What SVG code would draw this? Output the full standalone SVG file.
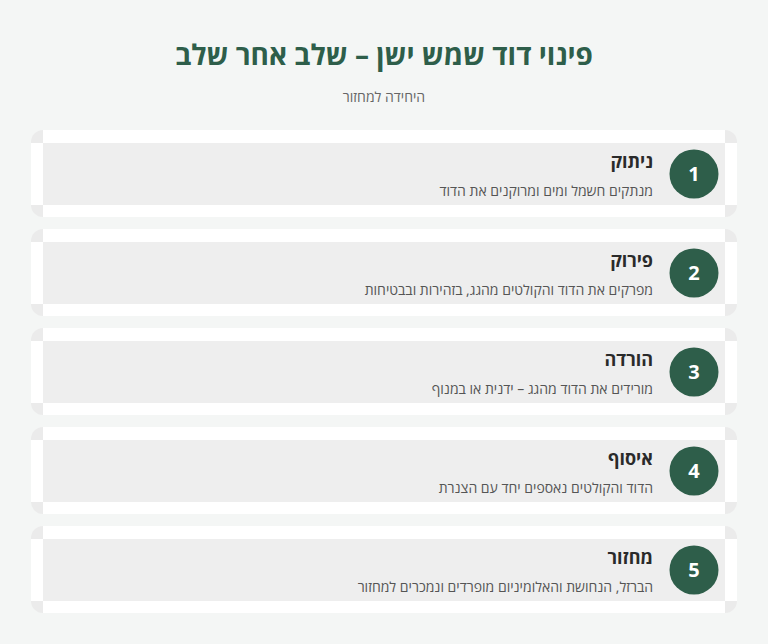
<svg xmlns="http://www.w3.org/2000/svg" width="768" height="644" viewBox="0 0 768 644">
<style>
.bg{fill:#f4f6f5}
.shadow{fill:#ebebeb}
.white{fill:#ffffff}
.band{fill:#eeeeee}
.circ{fill:#2e5e4a}
.num{font-family:"Open Sans","Noto Sans",sans-serif;font-weight:700;font-size:20px;fill:#ffffff;text-anchor:middle}
.t{font-family:"Open Sans","Noto Sans",sans-serif;font-weight:700;font-size:18px;fill:#2a2a2a;direction:rtl;text-anchor:start}
.d{font-family:"Open Sans","Noto Sans",sans-serif;font-size:14px;fill:#555555;direction:rtl;text-anchor:start}
.title{font-family:"Open Sans","Noto Sans",sans-serif;font-weight:700;font-size:28px;fill:#2e5e4a;text-anchor:middle;direction:rtl}
.sub{font-family:"Open Sans","Noto Sans",sans-serif;font-size:14px;fill:#666666;text-anchor:middle;direction:rtl}
</style>
<defs>
<g id="card">
<rect class="shadow" x="31" y="0" width="706" height="87" rx="12"/>
<rect class="white" x="43" y="0" width="682" height="87"/>
<rect class="white" x="31" y="13" width="706" height="62"/>
<rect class="band" x="43" y="13" width="682" height="62"/>
</g>
</defs>
<rect class="bg" x="0" y="0" width="768" height="644"/>
<text class="title" x="384" y="65">פינוי דוד שמש ישן – שלב אחר שלב</text>
<text class="sub" x="384" y="102">היחידה למחזור</text>
<g id="connectors"></g>
<g id="step1">
<use href="#card" y="130"/>
<circle class="circ" cx="694" cy="174" r="24.5"/>
<text class="num" x="694" y="181">1</text>
<text class="t" x="653" y="168">ניתוק</text>
<text class="d" x="653" y="196">מנתקים חשמל ומים ומרוקנים את הדוד</text>
</g>
<g id="step2">
<use href="#card" y="229"/>
<circle class="circ" cx="694" cy="273" r="24.5"/>
<text class="num" x="694" y="280">2</text>
<text class="t" x="653" y="267">פירוק</text>
<text class="d" x="653" y="295">מפרקים את הדוד והקולטים מהגג, בזהירות ובבטיחות</text>
</g>
<g id="step3">
<use href="#card" y="328"/>
<circle class="circ" cx="694" cy="372" r="24.5"/>
<text class="num" x="694" y="379">3</text>
<text class="t" x="653" y="366">הורדה</text>
<text class="d" x="653" y="394">מורידים את הדוד מהגג – ידנית או במנוף</text>
</g>
<g id="step4">
<use href="#card" y="427"/>
<circle class="circ" cx="694" cy="471" r="24.5"/>
<text class="num" x="694" y="478">4</text>
<text class="t" x="653" y="465">איסוף</text>
<text class="d" x="653" y="493">הדוד והקולטים נאספים יחד עם הצנרת</text>
</g>
<g id="step5">
<use href="#card" y="526"/>
<circle class="circ" cx="694" cy="570" r="24.5"/>
<text class="num" x="694" y="577">5</text>
<text class="t" x="653" y="564">מחזור</text>
<text class="d" x="653" y="592">הברזל, הנחושת והאלומיניום מופרדים ונמכרים למחזור</text>
</g>
</svg>
